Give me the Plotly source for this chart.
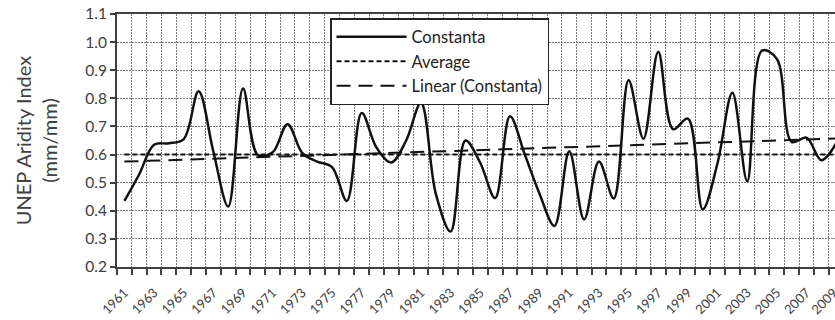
import plotly.graph_objects as go

# ---- data ----
years = list(range(1961, 2010))
constanta = [0.435, 0.53, 0.635, 0.64, 0.655, 0.825, 0.61, 0.415, 0.835, 0.598,
             0.608, 0.708, 0.605, 0.575, 0.555, 0.435, 0.748, 0.625, 0.572, 0.65,
             0.783, 0.46, 0.326, 0.65, 0.57, 0.445, 0.736, 0.60, 0.46, 0.346,
             0.612, 0.369, 0.575, 0.444, 0.864, 0.656, 0.966, 0.69, 0.728, 0.405,
             0.57, 0.82, 0.505, 0.97, 0.94, 0.645, 0.66, 0.58, 0.64]
average_value = 0.60
trend_years = [1961, 2009]
trend_values = [0.575, 0.657]
label_years = list(range(1961, 2010, 2))
label_text = [str(y) for y in label_years]
y_ticks = [0.2, 0.3, 0.4, 0.5, 0.6, 0.7, 0.8, 0.9, 1.0, 1.1]

FONT = "Lato"
TXT = "#404040"
GRID = "#7a7a7a"

fig = go.Figure()
fig.add_trace(go.Scatter(x=years, y=constanta, mode="lines", name="Constanta",
                         line=dict(color="#111", width=2.5, shape="spline", smoothing=1)))
fig.add_trace(go.Scatter(x=[years[0], years[-1]], y=[average_value, average_value],
                         mode="lines", name="Average",
                         line=dict(color="#111", width=2, dash="5px,3px")))
fig.add_trace(go.Scatter(x=trend_years, y=trend_values, mode="lines", name="Linear (Constanta)",
                         line=dict(color="#111", width=2, dash="14px,8px")))

boundaries = [y - 0.5 for y in years] + [years[-1] + 0.5]
x_lo = years[0] - 0.5
x_hi = x_lo + 48.42

fig.update_xaxes(
    range=[x_lo, x_hi], tickmode="array", tickvals=label_years, ticktext=label_text,
    tickangle=-45, ticks="", showgrid=False, zeroline=False, ticklabelstandoff=11,
    tickfont=dict(family=FONT, size=13, color=TXT),
    showline=True, linecolor="#404040", linewidth=2, mirror=True,
    minor=dict(tickmode="array", tickvals=boundaries, ticks="outside", ticklen=6,
               tickwidth=1.5, tickcolor="#404040", showgrid=True,
               gridcolor=GRID, griddash="2px,1px", gridwidth=1),
)
fig.update_yaxes(
    range=[0.2, 1.1], tickmode="array", tickvals=y_ticks, tickformat=".1f",
    ticks="outside", ticklen=5, tickwidth=1.5, tickcolor="#404040",
    showgrid=True, gridcolor=GRID, griddash="2px,1px", gridwidth=1, zeroline=False,
    showline=True, linecolor="#404040", linewidth=2,
    tickfont=dict(family=FONT, size=15.5, color=TXT),
    title=dict(text="UNEP Aridity Index<br>(mm/mm)", font=dict(family=FONT, size=20, color=TXT),
               standoff=22),
)

# label for the last (partly visible) category, beyond the cropped edge
for yv, txt in zip(label_years, label_text):
    if yv > x_hi:
        fig.add_annotation(x=(yv - x_lo) / (x_hi - x_lo), xref="paper", y=0, yref="paper",
                           text=txt, showarrow=False, textangle=-45,
                           xanchor="right", yanchor="top", yshift=-15, xshift=7,
                           font=dict(family=FONT, size=13, color=TXT))

fig.update_layout(
    width=835, height=320,
    margin=dict(l=117, r=0, t=14, b=53),
    paper_bgcolor="white", plot_bgcolor="white",
    showlegend=True,
    legend=dict(x=(330 - 117) / 718, y=(267 - 18) / 253, xanchor="left", yanchor="top",
                bgcolor="white", bordercolor="#222", borderwidth=1.5,
                font=dict(family=FONT, size=16.5, color="#222"),
                itemwidth=70, tracegroupgap=0, entrywidth=215),
)

fig.write_html("out.html")
